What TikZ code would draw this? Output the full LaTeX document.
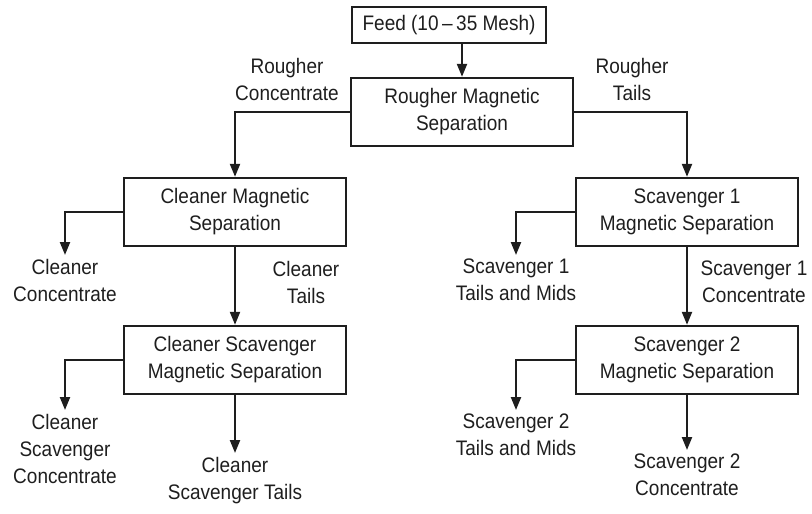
\documentclass[tikz,border=0pt]{standalone}
\usepackage{fontspec}
\setmainfont{Liberation Sans}[FakeStretch=0.905]
\usetikzlibrary{arrows.meta}
\definecolor{ink}{HTML}{1E1E1E}
\tikzset{
  procbox/.style={draw=ink, line width=2.4pt, align=center, inner sep=0pt,
    font=\fontsize{21}{27}\selectfont, text=ink},
  lbl/.style={align=center, inner sep=0pt, font=\fontsize{21}{27}\selectfont, text=ink},
  tiplbl/.style={lbl, anchor=north, inner ysep=4pt},
  flow/.style={draw=ink, line width=2.2pt, -{Triangle[length=13pt,width=10pt]}},
}
\begin{document}
\begin{tikzpicture}[x=1pt,y=-1pt]
\useasboundingbox (0,0) rectangle (812,514);
% boxes
\node[procbox, minimum width=194pt, minimum height=36pt] (feed) at (449,25) {Feed (10\,–\,35 Mesh)};
\node[procbox, minimum width=222pt, minimum height=68pt] (rough) at (462,112) {Rougher Magnetic\\Separation};
\node[procbox, minimum width=222pt, minimum height=68pt] (clean) at (235,212) {Cleaner Magnetic\\Separation};
\node[procbox, minimum width=222pt, minimum height=68pt] (cscav) at (235,360) {Cleaner Scavenger\\Magnetic Separation};
\node[procbox, minimum width=222pt, minimum height=68pt] (scav1) at (687,212) {Scavenger 1\\Magnetic Separation};
\node[procbox, minimum width=222pt, minimum height=68pt] (scav2) at (687,360) {Scavenger 2\\Magnetic Separation};
% side labels
\node[lbl] (rcl) at (287,79) {Rougher\\Concentrate};
\node[lbl] (rtl) at (632,79) {Rougher\\Tails};
\node[lbl] (ctl) at (306,282) {Cleaner\\Tails};
\node[lbl] (s1cl) at (754,282) {Scavenger 1\\Concentrate};
% output labels
\node[tiplbl] (ccon) at (65,255) {Cleaner\\Concentrate};
\node[tiplbl] (cscon) at (65,410) {Cleaner\\Scavenger\\Concentrate};
\node[tiplbl] (cstail) at (235,453) {Cleaner\\Scavenger Tails};
\node[tiplbl] (s1tm) at (516,255) {Scavenger 1\\Tails and Mids};
\node[tiplbl] (s2tm) at (516,410) {Scavenger 2\\Tails and Mids};
\node[tiplbl] (s2con) at (687,450) {Scavenger 2\\Concentrate};
% connectors
\draw[flow] (feed.south -| rough.north) -- (rough.north);
\draw[flow] (rough.west) -| (clean.north);
\draw[flow] (rough.east) -| (scav1.north);
\draw[flow] (clean.west) -| (ccon.north);
\draw[flow] (clean.south) -- (cscav.north);
\draw[flow] (cscav.west) -| (cscon.north);
\draw[flow] (cscav.south) -- (cstail.north);
\draw[flow] (scav1.west) -| (s1tm.north);
\draw[flow] (scav1.south) -- (scav2.north);
\draw[flow] (scav2.west) -| (s2tm.north);
\draw[flow] (scav2.south) -- (s2con.north);
\end{tikzpicture}
\end{document}
